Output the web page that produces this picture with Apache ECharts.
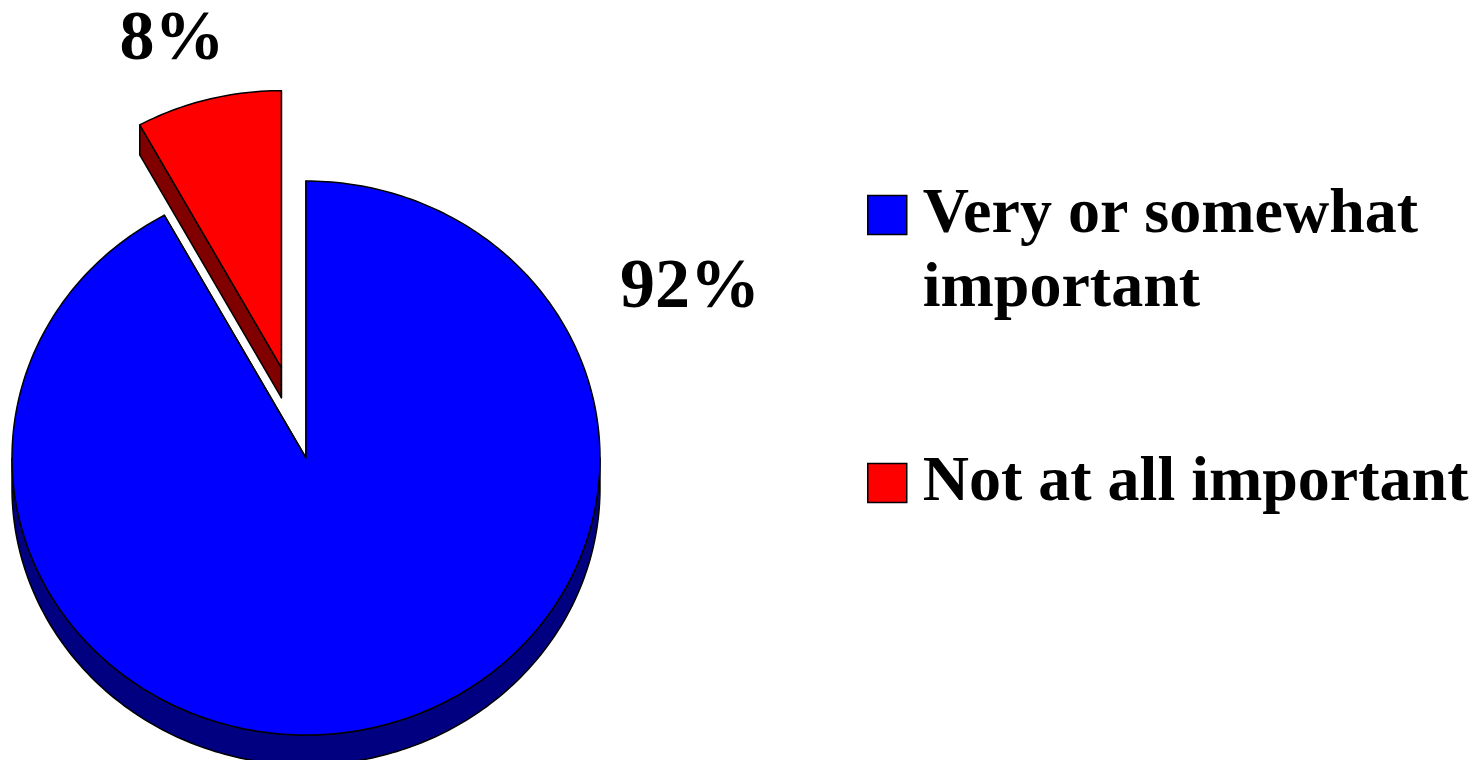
<!DOCTYPE html>
<html>
<head>
  <meta charset="utf-8" />
  <title>Importance</title>
  <script src="https://cdn.jsdelivr.net/npm/echarts@6/dist/echarts.min.js"></script>
  <style>
    html,
    body {
      margin: 0;
      padding: 0;
      background-color: #ffffff;
    }

    #chart {
      width: 1477px;
      height: 760px;
    }
  </style>
</head>
<body>
  <div id="chart"></div>
  <script>
    const categories = ["Very or somewhat important", "Not at all important"];
    const values = [92, 8];
    // leading blank line keeps the first text line level with the legend square
    const legendLabels = [" \nVery or somewhat\nimportant", "Not at all important"];

    const topColors = ["#0000ff", "#ff0000"];
    const sideColors = ["#000080", "#800000"];
    const font = "'Liberation Serif', 'Times New Roman', serif";

    // tilted pie: ellipse + extruded side
    const pie = { cx: 306, cy: 458, rx: 294, ry: 277, depth: 30 };
    const explode = [0, 99];
    const labelAt = [[690, 289], [172, 41]];

    const total = values.reduce((a, b) => a + b, 0);

    function pt(a) {
      return [pie.cx + pie.rx * Math.sin(a), pie.cy - pie.ry * Math.cos(a)];
    }

    function arc(a0, a1) {
      const pts = [];
      const n = Math.max(2, Math.ceil(Math.abs(a1 - a0) / (Math.PI / 180)));
      for (let k = 0; k <= n; k++) {
        pts.push(pt(a0 + ((a1 - a0) * k) / n));
      }
      return pts;
    }

    function down(p) {
      return [p[0], p[1] + pie.depth];
    }

    function makeSlice(i) {
      return function (params, api) {
        let before = 0;
        for (let k = 0; k < i; k++) before += values[k];
        const start = (before / total) * Math.PI * 2;
        const end = start + (api.value(0) / total) * Math.PI * 2;
        const mid = (start + end) / 2;

        const lineStyle = { stroke: "#000", lineWidth: 1.5, lineJoin: "round" };
        const side = Object.assign({ fill: sideColors[i] }, lineStyle);
        const children = [];

        // radial edges swept down
        [start, end].forEach((a) => {
          const c = [pie.cx, pie.cy];
          const o = pt(a);
          children.push({
            type: "polygon",
            shape: { points: [c, o, down(o), down(c)] },
            style: side,
          });
        });

        // front part of the rim
        const f0 = Math.max(start, Math.PI / 2);
        const f1 = Math.min(end, (Math.PI * 3) / 2);
        if (f1 > f0) {
          const rim = arc(f0, f1);
          children.push({
            type: "polygon",
            shape: { points: rim.concat(rim.map(down).reverse()) },
            style: side,
          });
        }

        // top face
        children.push({
          type: "polygon",
          shape: { points: [[pie.cx, pie.cy]].concat(arc(start, end)) },
          style: Object.assign({ fill: topColors[i] }, lineStyle),
        });

        const e = explode[i];
        return {
          type: "group",
          children: [
            {
              type: "group",
              x: e * Math.sin(mid),
              y: -e * Math.cos(mid) * (pie.ry / pie.rx),
              children: children,
            },
            {
              type: "text",
              x: labelAt[i][0],
              y: labelAt[i][1],
              style: {
                text: api.value(0) + "%",
                fill: "#000",
                font: "bold 70px " + font,
                align: "center",
                verticalAlign: "middle",
              },
            },
          ],
        };
      };
    }

    const chart = echarts.init(document.getElementById("chart"));

    const legendText = {
      color: "#000",
      fontSize: 64,
      fontWeight: "bold",
      fontFamily: font,
      lineHeight: 74,
      padding: [0, 0, 0, 11],
    };

    const legendBase = {
      left: 867,
      padding: 0,
      icon: "rect",
      itemWidth: 39,
      itemHeight: 39,
      selectedMode: false,
      itemStyle: { borderColor: "#000", borderWidth: 1.5 },
      textStyle: legendText,
    };

    chart.setOption({
      animation: false,
      backgroundColor: "#ffffff",
      legend: [
        Object.assign({}, legendBase, {
          data: [categories[0]],
          top: 104,
          formatter: () => legendLabels[0],
        }),
        Object.assign({}, legendBase, {
          data: [categories[1]],
          top: 446,
          formatter: () => legendLabels[1],
        }),
      ],
      series: categories.map((name, i) => ({
        type: "custom",
        name: name,
        coordinateSystem: "none",
        silent: true,
        itemStyle: { color: topColors[i] },
        data: [values[i]],
        renderItem: makeSlice(i),
      })),
    });
  </script>
</body>
</html>
